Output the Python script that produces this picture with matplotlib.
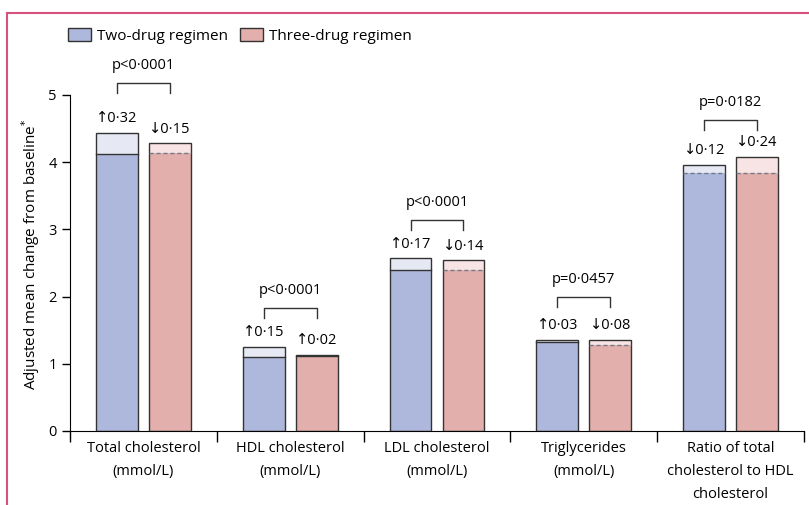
import numpy as np
import matplotlib.pyplot as plt
from matplotlib.patches import Patch

plt.rcParams['font.family'] = ['Open Sans', 'DejaVu Sans']

# ---- data ----
categories = ["Total cholesterol\n(mmol/L)", "HDL cholesterol\n(mmol/L)",
              "LDL cholesterol\n(mmol/L)", "Triglycerides\n(mmol/L)",
              "Ratio of total\ncholesterol to HDL\ncholesterol"]
two_baseline = [4.12, 1.10, 2.40, 1.33, 3.96]
two_change = [0.32, 0.15, 0.17, 0.03, -0.12]
three_baseline = [4.28, 1.11, 2.54, 1.36, 4.08]
three_change = [-0.15, 0.02, -0.14, -0.08, -0.24]
p_values = ["p<0·0001", "p<0·0001", "p<0·0001", "p=0·0457", "p=0·0182"]

# layout for the significance brackets (data units)
bracket_y = [5.03, 1.68, 2.99, 1.85, 4.48]

dark = {"two": "#aeb8dc", "three": "#e3afac"}
light = {"two": "#e6e8f4", "three": "#f8e4e4"}

fig = plt.figure(figsize=(8.09, 5.05), dpi=100)
ymax = 5.6
ax = fig.add_axes([70 / 809, 74 / 505, 734 / 809, ymax * 67.2 / 505])
ax.set_xlim(-0.5, 4.5)
ax.set_ylim(0, ymax)

x = np.arange(len(categories))
width = 0.285
offset = 0.18


def fmt(v):
    arrow = "↑" if v >= 0 else "↓"
    return arrow + ("%.2f" % abs(v)).replace(".", "·")


for key, base, change, sign in [("two", two_baseline, two_change, -1),
                                 ("three", three_baseline, three_change, 1)]:
    base = np.array(base)
    change = np.array(change)
    final = base + change
    low = np.minimum(base, final)
    high = np.maximum(base, final)
    xs = x + sign * offset
    ax.bar(xs, low, width, color=dark[key], edgecolor="none", zorder=2)
    ax.bar(xs, high - low, width, bottom=low, color=light[key],
           edgecolor="none", zorder=2)
    ax.bar(xs, high, width, color="none", edgecolor="#333333",
           linewidth=1.0, zorder=3)
    for xi, lo, c in zip(xs, low, change):
        if c >= 0:
            ax.plot([xi - width / 2, xi + width / 2], [lo, lo],
                    color="#333333", lw=1.0, zorder=4)
        else:
            ax.plot([xi - width / 2, xi + width / 2], [lo, lo],
                    color="#707a88", lw=1.0, ls=(0, (3, 2)), zorder=4)
    for xi, hi, c in zip(xs, high, change):
        ax.text(xi, hi + 0.1, fmt(c), ha="center", va="bottom", fontsize=10.5)

# brackets
for xi, by, p in zip(x, bracket_y, p_values):
    ax.plot([xi - offset, xi - offset, xi + offset, xi + offset],
            [by, by + 0.15, by + 0.15, by], color="#333333", lw=1.0,
            clip_on=False)
    ax.text(xi, by + 0.3, p, ha="center", va="bottom", fontsize=10.5)

# axes styling
for s in ["top", "right"]:
    ax.spines[s].set_visible(False)
ax.spines["left"].set_bounds(0, 5)
ax.set_yticks(range(6))
ax.tick_params(axis="y", direction="out", length=6, width=1, labelsize=10.5)
ax.set_xticks(np.arange(-0.5, 5, 1))
ax.set_xticklabels([])
ax.tick_params(axis="x", which="major", direction="out", length=8, width=1)
ax.set_xticks(x, minor=True)
ax.set_xticklabels(categories, minor=True, fontsize=10.5, linespacing=1.75)
ax.tick_params(axis="x", which="minor", length=0, pad=7)
ax.set_ylabel("Adjusted mean change from baseline$^{*}$", fontsize=11)
ax.yaxis.set_label_coords(-0.038, 0.47)

handles = [Patch(facecolor=dark["two"], edgecolor="#333333", label="Two-drug regimen"),
           Patch(facecolor=dark["three"], edgecolor="#333333", label="Three-drug regimen")]
fig.legend(handles=handles, loc="center left", bbox_to_anchor=(54 / 809, 1 - 36 / 505),
           ncol=2, frameon=False, fontsize=11, handlelength=1.5, handleheight=0.9,
           handletextpad=0.4, columnspacing=0.8)

# journal frame
fig.add_artist(plt.Line2D([6.5 / 809, 6.5 / 809], [0, 1 - 13 / 505],
                          color="#d6517d", lw=1.5))
fig.add_artist(plt.Line2D([6.5 / 809, 1], [1 - 13 / 505, 1 - 13 / 505],
                          color="#d6517d", lw=1.5))

fig.savefig("out.png", dpi=100)
